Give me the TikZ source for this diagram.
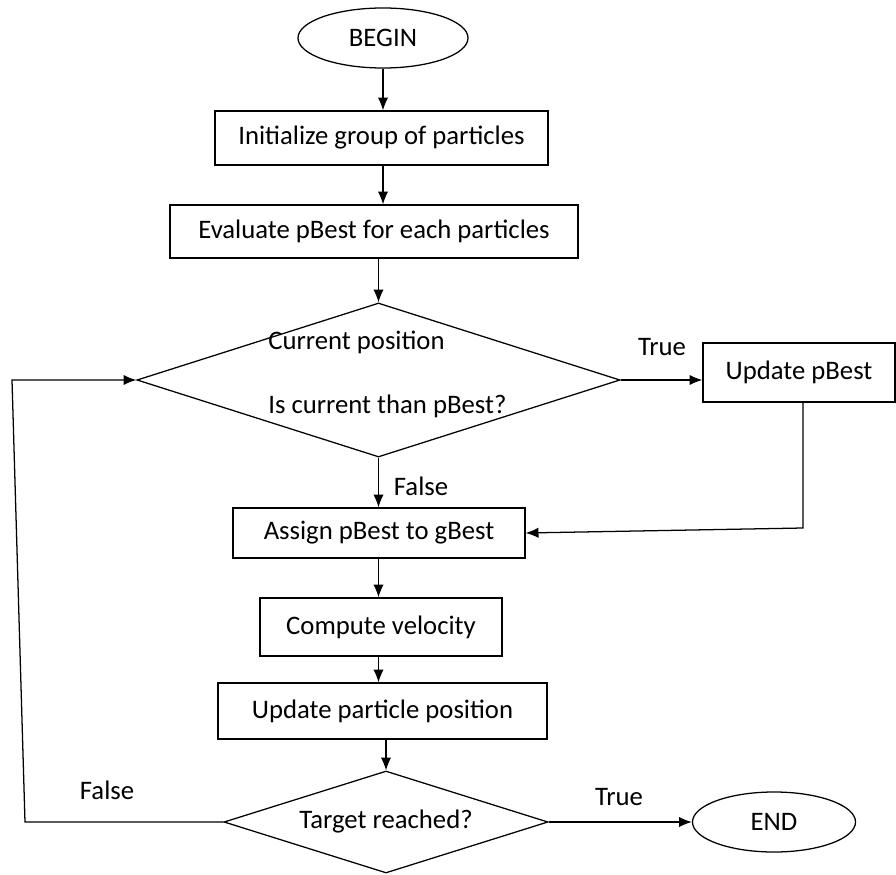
\documentclass[tikz,border=0pt]{standalone}
\usepackage{fontspec}
\setmainfont{Carlito}
\usepackage{tikz}
\usetikzlibrary{shapes.geometric,arrows.meta,scopes}

\begin{document}
\begin{tikzpicture}[x=0.025cm,y=-0.025cm,
      >={Latex[length=3.2mm,width=2.6mm]},
      every node/.style={font=\fontsize{19}{22}\selectfont},
      flow/.style={draw=black,line width=0.9pt},
      term/.style={ellipse,draw=black,line width=0.9pt,minimum width=4.25cm,minimum height=1.5cm,inner sep=0pt},
      proc/.style={rectangle,draw=black,line width=0.9pt,inner sep=0pt},
      cond/.style={diamond,draw=black,line width=0.9pt,aspect=3,inner sep=0pt},
      lbl/.style={inner sep=0pt}
]
      \useasboundingbox (0,0) rectangle (896,875);

      \node[term] at (383, 38) (begin) {BEGIN};
      \node[proc,minimum width=8.325cm,minimum height=1.35cm] at (381.5, 138) (init) {Initialize group of particles};
      \node[proc,minimum width=10.2cm,minimum height=1.325cm] at (374, 231.5) (eval) {Evaluate pBest for each particles};
      \node[cond,minimum width=12.075cm,minimum height=3.85cm] at (378.5, 380) (cmp) {};
      \node[lbl,anchor=west] at (268, 342) (cmpa) {Current position};
      \node[lbl,anchor=west] at (268, 406) (cmpb) {Is current than pBest?};
      \node[proc,minimum width=4.8cm,minimum height=1.475cm] at (799, 372.5) (upb) {Update pBest};
      \node[proc,minimum width=7.3cm,minimum height=1.25cm] at (379, 533) (assign) {Assign pBest to gBest};
      \node[proc,minimum width=6.05cm,minimum height=1.45cm] at (381, 627) (vel) {Compute velocity};
      \node[proc,minimum width=8.225cm,minimum height=1.4cm] at (382.5, 711) (upos) {Update particle position};
      \node[cond,minimum width=8.1cm,minimum height=2.55cm] at (386, 822) (target) {Target reached?};
      \node[term,minimum width=4.075cm] at (774, 822) (end) {END};

      \node[lbl] at (662, 347) (t1) {True};
      \node[lbl] at (421, 486) (f1) {False};
      \node[lbl] at (619, 797) (t2) {True};
      \node[lbl] at (107, 790) (f2) {False};

      \coordinate (ucorner) at (803, 528);
      \coordinate (lb) at (25, 822);
      \coordinate (lt) at (12, 380);

      {[flow,->]
          \draw (begin) -- (begin |- init.north);
          \draw (init.south -| begin) -- (eval.north -| begin);
          \draw (eval.south -| cmp) -- (cmp.north);
          \draw (cmp.east) -- (upb.west |- cmp.east);
          \draw (cmp.south) -- (assign.north -| cmp);
          \draw (upb.south -| ucorner) -- (ucorner) -- (assign.east);
          \draw (assign.south -| cmp) -- (vel.north -| cmp);
          \draw (vel.south -| cmp) -- (upos.north -| cmp);
          \draw (target.north |- upos.south) -- (target.north);
          \draw (target.east) -- (end.west);
          \draw (target.west) -- (lb) -- (lt) -- (cmp.west);
      }
\end{tikzpicture}
\end{document}
